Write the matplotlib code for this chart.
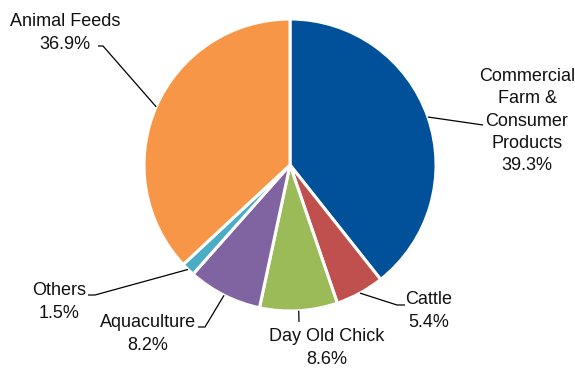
import numpy as np
import matplotlib
matplotlib.use("Agg")
import matplotlib.pyplot as plt

plt.rcParams['font.family'] = ['Liberation Sans', 'DejaVu Sans']

labels = ["Commercial\nFarm &\nConsumer\nProducts", "Cattle", "Day Old Chick",
          "Aquaculture", "Others", "Animal Feeds"]
shares = [39.3, 5.4, 8.6, 8.2, 1.5, 36.9]
colors = ["#00509A", "#C0504D", "#9BBB59", "#8064A2", "#4BACC6", "#F79646"]

W, H = 575, 369
fig = plt.figure(figsize=(W / 100, H / 100), dpi=100)
ax = fig.add_axes([0, 0, 1, 1])

cx, cy, R = 290, H - 165, 146
wedges, _ = ax.pie(shares, colors=colors, startangle=90, counterclock=False,
                   center=(cx, cy), radius=R, explode=[0.02, 0, 0, 0, 0, 0],
                   wedgeprops=dict(edgecolor="white", linewidth=2.2),
                   frame=True)
ax.set_xlim(0, W)
ax.set_ylim(0, H)
ax.set_aspect("equal")
ax.axis("off")

# label placement (pixel coords, top-left origin): elbow points, text centre
layout = [
    dict(elbow=[(483, 125)], text=(527, 121)),
    dict(elbow=[(397, 305), (405, 305)], text=(429, 311)),
    dict(elbow=[(299, 322)], text=(327, 348)),
    dict(elbow=[(205, 327), (198, 327)], text=(148, 334)),
    dict(elbow=[(95, 295), (88, 295)], text=(59, 302)),
    dict(elbow=[(103, 46), (98, 46)], text=(65, 33)),
]

for w, lab, s, lo in zip(wedges, labels, shares, layout):
    ang = np.deg2rad((w.theta1 + w.theta2) / 2)
    x0 = w.center[0] + w.r * np.cos(ang)
    y0 = w.center[1] + w.r * np.sin(ang)
    xs = [x0] + [p[0] for p in lo["elbow"]]
    ys = [y0] + [H - p[1] for p in lo["elbow"]]
    ax.plot(xs, ys, color="black", lw=0.9, solid_capstyle="butt")
    tx, ty = lo["text"]
    ax.text(tx, H - ty, f"{lab}\n{s:.1f}%", ha="center", va="center",
            fontsize=13, linespacing=1.4, color="#111111")

fig.savefig("out.png", dpi=100)
